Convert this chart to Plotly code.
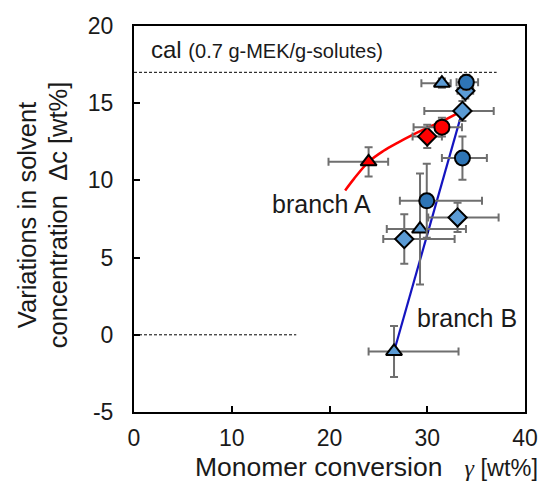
import plotly.graph_objects as go

# Blue circles
bc_x = [34.0, 33.6, 29.95]
bc_y = [16.35, 11.45, 8.68]
bc_exp = [1.2, 2.5, 5.65]
bc_exm = [1.0, 2.1, 2.75]
bc_ey = [0.5, 1.4, 2.4]

# Blue diamonds
bd_x = [33.9, 33.6, 33.1, 27.65]
bd_y = [15.8, 14.5, 7.6, 6.2]
bd_exp = [0.8, 3.2, 4.2, 5.15]
bd_exm = [0.8, 3.9, 3.0, 2.15]
bd_ey = [0.5, 0.65, 0.95, 1.6]

# Blue triangles
bt_x = [31.5, 29.26, 26.6]
bt_y = [16.3, 6.85, -1.08]
bt_exp = [0.9, 4.7, 6.6]
bt_exm = [2.1, 3.4, 2.6]
bt_ey = [0.3, 3.6, 1.65]

# Red points
rc_x, rc_y, rc_exp, rc_exm, rc_ey = [31.5], [13.45], [2.05], [2.9], [0.6]
rd_x, rd_y, rd_exp, rd_exm, rd_ey = [30.0], [12.85], [1.5], [1.5], [0.75]
rt_x, rt_y, rt_exp, rt_exm, rt_ey = [24.0], [11.2], [2.0], [4.1], [0.95]

# Branch curves
branchA_x = [21.6, 22.5, 24.0, 25.5, 27.0, 28.5, 30.0, 31.5, 33.55]
branchA_y = [9.35, 10.1, 11.2, 11.9, 12.45, 12.95, 13.4, 13.82, 14.5]
branchB_x = [26.6, 33.6]
branchB_y = [-1.08, 14.5]

# Reference dashed lines
cal_x = [0, 37.1]
cal_y = [17, 17]
zero_x = [0, 16.6]
zero_y = [0, 0]

x_ticks = [0, 10, 20, 30, 40]
x_ticktext = ["0", "10", "20", "30", "40"]
y_ticks = [-5, 0, 5, 10, 15, 20]
y_ticktext = ["-5", "0", "5", "10", "15", "20"]

FONT = "Liberation Sans, Arial, sans-serif"
TXT = "#1a1a1a"
ERRC = "#6f6f6f"
BLUE_D = "#2E75B6"
BLUE_L = "#5B9BD5"
RED = "#FF0000"

fig = go.Figure()

fig.add_trace(go.Scatter(x=cal_x, y=cal_y, mode="lines",
                         line=dict(color="black", width=1, dash="3px,2px")))
fig.add_trace(go.Scatter(x=zero_x, y=zero_y, mode="lines",
                         line=dict(color="black", width=1, dash="3px,2px")))
fig.add_trace(go.Scatter(x=branchA_x, y=branchA_y, mode="lines",
                         line=dict(color=RED, width=2.5, shape="spline")))
fig.add_trace(go.Scatter(x=branchB_x, y=branchB_y, mode="lines",
                         line=dict(color="#1414C0", width=2.2)))


def pts(x, y, exp, exm, ey, symbol, color, size):
    return go.Scatter(
        x=x, y=y, mode="markers",
        marker=dict(symbol=symbol, color=color, size=size,
                    line=dict(color="black", width=2)),
        error_x=dict(type="data", symmetric=False, array=exp, arrayminus=exm,
                     color=ERRC, thickness=2, width=4),
        error_y=dict(type="data", array=ey, color=ERRC, thickness=2, width=4),
    )


fig.add_trace(pts(bd_x, bd_y, bd_exp, bd_exm, bd_ey, "diamond", BLUE_L, 14))
fig.add_trace(pts(bt_x, bt_y, bt_exp, bt_exm, bt_ey, "triangle-up", BLUE_L, 14))
fig.add_trace(pts(bc_x, bc_y, bc_exp, bc_exm, bc_ey, "circle", BLUE_D, 15))
fig.add_trace(pts(rd_x, rd_y, rd_exp, rd_exm, rd_ey, "diamond", RED, 14))
fig.add_trace(pts(rt_x, rt_y, rt_exp, rt_exm, rt_ey, "triangle-up", RED, 14))
fig.add_trace(pts(rc_x, rc_y, rc_exp, rc_exm, rc_ey, "circle", RED, 15))

axis_common = dict(showgrid=False, zeroline=False, showline=True, linecolor="black",
                   linewidth=2, mirror=True, ticks="inside", ticklen=6,
                   tickcolor="black", tickwidth=1.5, automargin=False,
                   tickfont=dict(family=FONT, size=23, color=TXT))

fig.update_layout(
    width=539, height=482,
    margin=dict(l=134, r=14, t=26, b=70),
    paper_bgcolor="white", plot_bgcolor="white",
    showlegend=False,
    font=dict(family=FONT, color=TXT),
    xaxis=dict(range=[0, 40], tickvals=x_ticks, ticktext=x_ticktext,
               ticklabelstandoff=4, **axis_common),
    yaxis=dict(range=[-5, 20], tickvals=y_ticks, ticktext=y_ticktext,
               ticklabelstandoff=14, **axis_common),
    annotations=[
        dict(x=(193 - 134) / 391, y=-0.142, xref="paper", yref="paper",
             xanchor="left", yanchor="middle",
             text="Monomer conversion&nbsp;&nbsp;&nbsp;"
                  "<span style='font-family:Liberation Serif, serif;font-size:24px'><i>γ</i></span>"
                  "<span style='font-size:23.5px'>&nbsp;[wt%]</span>",
             showarrow=False, font=dict(family=FONT, size=26.5, color=TXT)),
        dict(x=(27 - 134) / 391, y=0.51, xref="paper", yref="paper",
             xanchor="center", yanchor="middle",
             text="Variations in solvent", showarrow=False,
             textangle=-90, font=dict(family=FONT, size=25.5, color=TXT)),
        dict(x=(58 - 134) / 391, y=0.51, xref="paper", yref="paper",
             xanchor="center", yanchor="middle",
             text="concentration  Δc [wt%]", showarrow=False,
             textangle=-90, font=dict(family=FONT, size=25.5, color=TXT)),
        dict(x=1.5, y=18.45, xref="x", yref="y", xanchor="left", yanchor="middle",
             text="cal <span style='font-size:20px'>(0.7 g-MEK/g-solutes)</span>",
             showarrow=False, font=dict(family=FONT, size=24, color=TXT)),
        dict(x=13.9, y=8.45, xref="x", yref="y", xanchor="left", yanchor="middle",
             text="branch A", showarrow=False,
             font=dict(family=FONT, size=25, color=TXT)),
        dict(x=28.7, y=1.1, xref="x", yref="y", xanchor="left", yanchor="middle",
             text="branch B", showarrow=False,
             font=dict(family=FONT, size=25, color=TXT)),
    ],
)

fig.write_html("out.html")
